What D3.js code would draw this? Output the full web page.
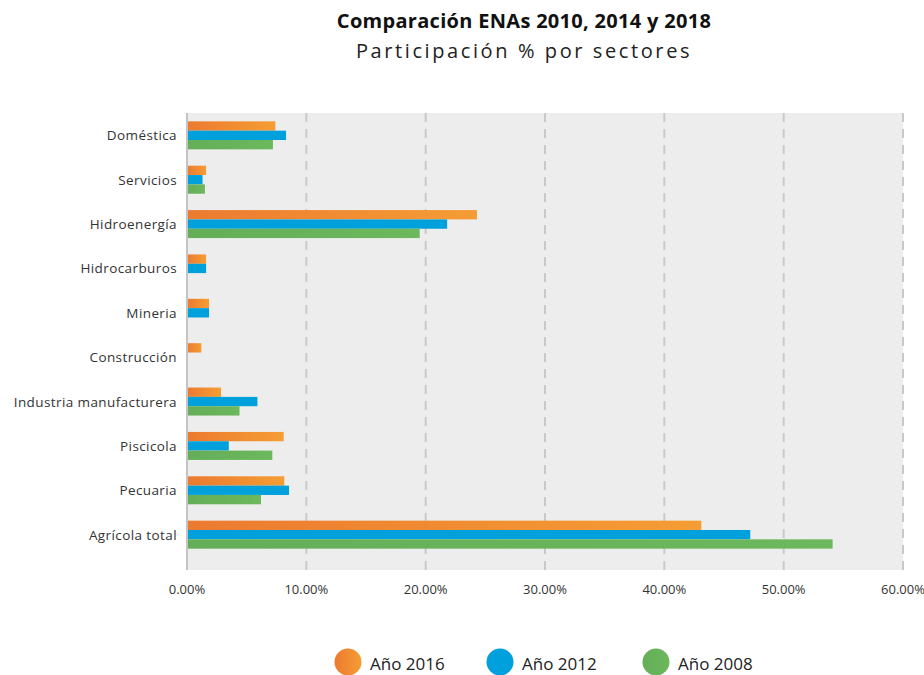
<!DOCTYPE html>
<html>
<head>
<meta charset="utf-8">
<script src="https://cdn.jsdelivr.net/npm/d3@7"></script>
<style>
  html, body { margin:0; padding:0; background:#fff; }
  svg { display:block; font-family:"Open Sans", "Noto Sans", sans-serif; }
</style>
</head>
<body>
<svg id="chart" width="924" height="675"></svg>
<script>
const W = 924, H = 675;

// sectores (de arriba hacia abajo)
const sectors = ['Doméstica','Servicios','Hidroenergía','Hidrocarburos','Mineria',
  'Construcción','Industria manufacturera','Piscicola','Pecuaria','Agrícola total'];
const seriesNames = ['Año 2016','Año 2012','Año 2008'];
// participación % por sector
const val2016 = [7.4, 1.6, 24.3, 1.6, 1.85, 1.2, 2.85, 8.1, 8.15, 43.1];
const val2012 = [8.3, 1.3, 21.8, 1.6, 1.85, 0,   5.9,  3.5, 8.55, 47.2];
const val2008 = [7.2, 1.5, 19.5, 0,   0,    0,   4.4,  7.15, 6.2, 54.1];
const xTicks = [0, 10, 20, 30, 40, 50, 60];

const seriesVals = [val2016, val2012, val2008];
const colors = [['#ec7a30','#f59d34'], ['#00a0dc','#00a0dc'], ['#64ae58','#6cb85c']];

const svg = d3.select('#chart');
const defs = svg.append('defs');
colors.forEach((c, i) => {
  const g = defs.append('linearGradient').attr('id','grad'+i)
    .attr('x1','0%').attr('x2','100%').attr('y1','0%').attr('y2','0%');
  g.append('stop').attr('offset','0%').attr('stop-color', c[0]);
  g.append('stop').attr('offset','100%').attr('stop-color', c[1]);
});

const M = {left:187, right:903, top:113, bottom:570};

const x = d3.scaleLinear().domain([0, 60]).range([M.left, M.right]);
const y = d3.scaleBand().domain(sectors).range([M.top, 557])
  .paddingInner(0.369).paddingOuter(0.188);
const ySub = d3.scaleBand().domain(seriesNames).range([0, y.bandwidth()]);

// fondo del área de gráfico
svg.append('rect')
  .attr('x', M.left).attr('y', M.top)
  .attr('width', M.right - M.left).attr('height', M.bottom - M.top)
  .attr('fill', '#ededed');

// líneas de grilla punteadas
svg.append('g').selectAll('line')
  .data(xTicks.slice(1))
  .join('line')
  .attr('x1', d => x(d)).attr('x2', d => x(d))
  .attr('y1', M.top).attr('y2', M.bottom)
  .attr('stroke', '#c9c9c9').attr('stroke-width', 2)
  .attr('stroke-dasharray', '9,7');

// barras
const rows = svg.append('g').selectAll('g')
  .data(sectors)
  .join('g')
  .attr('transform', d => `translate(0,${y(d)})`);

rows.selectAll('rect')
  .data((d, i) => seriesNames.map((s, k) => ({s, k, v: seriesVals[k][i]})).filter(e => e.v > 0))
  .join('rect')
  .attr('x', x(0))
  .attr('y', e => ySub(e.s))
  .attr('width', e => x(e.v) - x(0))
  .attr('height', ySub.bandwidth())
  .attr('fill', e => `url(#grad${e.k})`);

// eje vertical
svg.append('line')
  .attr('x1', M.left).attr('x2', M.left)
  .attr('y1', M.top).attr('y2', M.bottom)
  .attr('stroke', '#c4c4c4').attr('stroke-width', 2);

// etiquetas de categorías
svg.append('g').selectAll('text')
  .data(sectors)
  .join('text')
  .attr('x', 177)
  .attr('y', d => y(d) + y.bandwidth() / 2)
  .attr('text-anchor', 'end')
  .attr('dominant-baseline', 'central')
  .attr('font-size', 13.5)
  .attr('letter-spacing', 0.4)
  .attr('fill', '#333')
  .text(d => d);

// etiquetas del eje x
svg.append('g').selectAll('text')
  .data(xTicks)
  .join('text')
  .attr('x', d => x(d))
  .attr('y', 589)
  .attr('text-anchor', 'middle')
  .attr('dominant-baseline', 'central')
  .attr('font-size', 13)
  .attr('fill', '#333')
  .text(d => d3.format('.2f')(d) + '%');

// títulos
svg.append('text')
  .attr('x', 524).attr('y', 28)
  .attr('text-anchor', 'middle')
  .attr('font-size', 20).attr('font-weight', 'bold')
  .attr('letter-spacing', 0.3)
  .attr('fill', '#111')
  .text('Comparación ENAs 2010, 2014 y 2018');
svg.append('text')
  .attr('x', 524).attr('y', 58)
  .attr('text-anchor', 'middle')
  .attr('font-size', 20).attr('letter-spacing', 2.6)
  .attr('fill', '#222')
  .text('Participación % por sectores');

// leyenda
const legX = [348, 500, 656];
const leg = svg.append('g').selectAll('g')
  .data(seriesNames)
  .join('g')
  .attr('transform', (d, i) => `translate(${legX[i]},662)`);
leg.append('circle').attr('r', 13.5).attr('fill', (d, i) => `url(#grad${i})`);
leg.append('text')
  .attr('x', 22).attr('y', 1)
  .attr('dominant-baseline', 'central')
  .attr('font-size', 17).attr('fill', '#222')
  .text(d => d);
</script>
</body>
</html>
